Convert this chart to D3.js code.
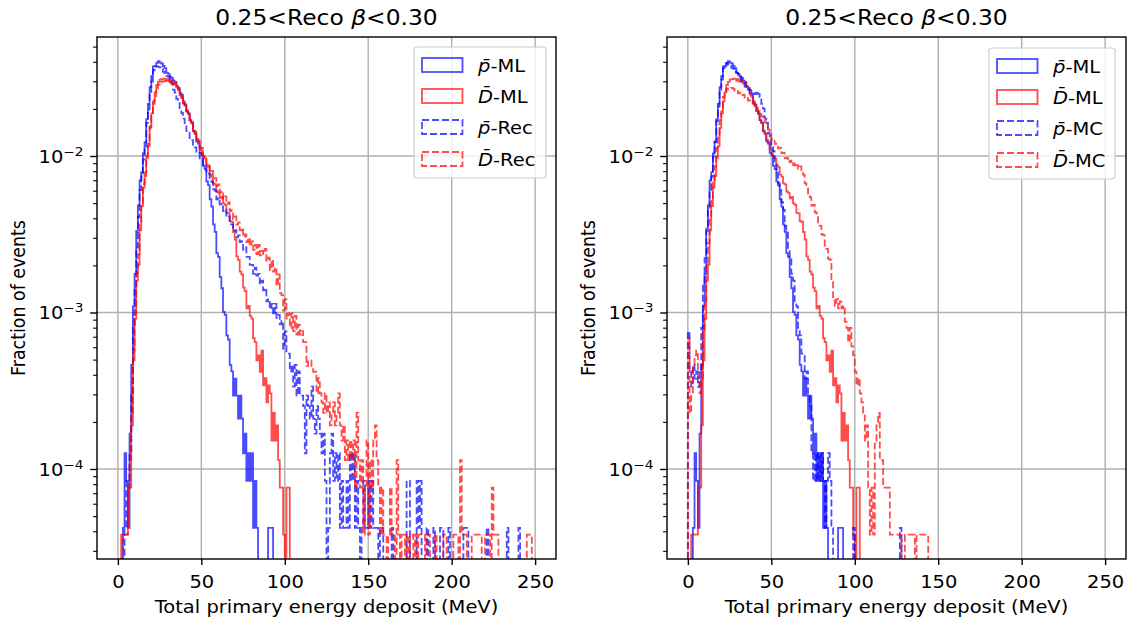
<!DOCTYPE html>
<html>
<head>
<meta charset="utf-8">
<script src="https://cdn.jsdelivr.net/npm/d3@7"></script>
<style>
  body { margin: 0; background: #fff; }
  svg text { font-family: "DejaVu Sans", sans-serif; fill: #000; }
</style>
</head>
<body>
<script>
// event counts per 1 MeV bin, first entry = [0,1) MeV
const pML = [
  0, 0, 0, 1, 3, 2, 1, 4, 11, 26,
  42, 79, 115, 166, 188, 247, 292, 410, 512, 655,
  770, 890, 895, 938, 962, 940, 928, 895, 866, 812,
  798, 764, 752, 721, 708, 662, 648, 602, 588, 531,
  508, 462, 447, 403, 389, 342, 331, 294, 286, 249,
  241, 206, 196, 164, 155, 126, 113, 87, 78, 57,
  54, 40, 34, 24, 23, 17, 16, 11, 10, 7,
  9, 7, 5, 7, 5, 3, 4, 2, 3, 2,
  3, 1, 2, 1, 0, 0, 0, 0, 0, 0,
  1, 1, 1];
const dML = [
  0, 0, 1, 1, 1, 1, 2, 2, 5, 13,
  24, 42, 53, 88, 126, 165, 196, 257, 304, 398,
  492, 588, 672, 748, 782, 808, 814, 822, 818, 795,
  815, 786, 806, 764, 768, 733, 708, 652, 628, 572,
  556, 512, 488, 444, 426, 383, 366, 334, 326, 294,
  286, 259, 254, 230, 224, 200, 194, 176, 173, 156,
  153, 141, 144, 131, 128, 114, 113, 101, 100, 86,
  77, 60, 57, 48, 46, 38, 36, 28, 29, 25,
  24, 18, 17, 13, 14, 11, 15, 9, 10, 7,
  9, 8, 4, 6, 4, 5, 3, 2, 2, 1,
  0, 2, 2];
const pRec = [
  0, 0, 0, 0, 1, 2, 2, 3, 7, 19,
  33, 62, 97, 144, 176, 226, 274, 388, 472, 610,
  712, 838, 862, 889, 884, 876, 858, 822, 806, 772,
  766, 712, 688, 632, 606, 552, 528, 472, 448, 412,
  386, 344, 336, 304, 300, 274, 270, 250, 249, 230,
  229, 210, 209, 190, 184, 166, 163, 146, 143, 126,
  128, 117, 118, 106, 108, 97, 98, 87, 87, 79,
  80, 72, 74, 67, 68, 60, 62, 54, 54, 48,
  48, 42, 46, 41, 42, 36, 38, 33, 34, 28,
  29, 25, 27, 23, 27, 22, 23, 20, 21, 14,
  18, 13, 13, 10, 11, 8, 11, 7, 10, 7,
  7, 6, 3, 7, 6, 5, 8, 5, 4, 6,
  5, 4, 3, 4, 2, 0, 1, 3, 4, 2,
  3, 2, 3, 1, 2, 1, 1, 2, 1, 3,
  2, 3, 1, 2, 1, 0, 1, 2, 1, 1,
  2, 1, 2, 1, 1, 1, 0, 1, 1, 0,
  0, 0, 0, 0, 1, 0, 0, 0, 0, 0,
  0, 0, 0, 2, 2, 0, 0, 0, 0, 2,
  1, 2, 0, 0, 0, 1, 0, 0, 0, 1,
  0, 0, 0, 1, 1, 0, 0, 0, 1, 0,
  0, 0, 0, 0, 0, 0, 0, 1, 1, 1,
  0, 0, 0, 0, 0, 0, 0, 0, 0, 0,
  0, 1, 0, 0, 0, 0, 0, 0, 0, 0,
  0, 0, 0, 1, 0, 0, 0, 0, 0, 0,
  1];
const dRec = [
  0, 0, 0, 1, 1, 1, 2, 3, 6, 15,
  26, 47, 62, 98, 131, 174, 206, 265, 314, 406,
  474, 566, 632, 708, 752, 778, 784, 788, 796, 794,
  805, 776, 796, 754, 756, 714, 696, 644, 616, 568,
  552, 503, 486, 443, 432, 388, 376, 338, 331, 298,
  296, 263, 261, 233, 234, 208, 211, 189, 190, 169,
  173, 154, 157, 140, 145, 130, 133, 117, 119, 104,
  108, 96, 99, 88, 91, 80, 83, 74, 79, 70,
  75, 66, 71, 62, 71, 61, 65, 62, 67, 56,
  59, 49, 57, 48, 51, 39, 46, 35, 34, 27,
  32, 24, 26, 21, 26, 20, 25, 19, 22, 19,
  20, 17, 17, 12, 13, 13, 12, 11, 11, 8,
  10, 8, 7, 6, 8, 6, 7, 5, 6, 7,
  5, 6, 8, 5, 4, 5, 3, 4, 3, 4,
  3, 4, 2, 6, 3, 2, 3, 1, 2, 4,
  1, 3, 2, 4, 5, 3, 2, 1, 2, 1,
  1, 0, 1, 2, 1, 1, 0, 3, 1, 0,
  1, 1, 0, 1, 0, 1, 1, 0, 1, 0,
  1, 1, 1, 1, 0, 1, 1, 0, 0, 0,
  1, 0, 0, 0, 0, 1, 1, 0, 0, 0,
  0, 1, 1, 1, 0, 3, 1, 1, 1, 0,
  0, 0, 1, 1, 1, 1, 1, 1, 0, 0,
  1, 1, 1, 0, 2, 1, 1, 1, 0, 0,
  0, 0, 0, 0, 0, 0, 0, 0, 0, 0,
  0, 0, 0, 0, 0, 1, 1, 1];
const pMC = [
  18, 10, 8, 11, 9, 10, 8, 10, 19, 36,
  53, 82, 107, 144, 176, 236, 294, 398, 492, 628,
  732, 868, 892, 938, 914, 906, 872, 858, 822, 808,
  772, 768, 712, 698, 662, 658, 632, 628, 594, 598,
  592, 618, 594, 566, 512, 478, 412, 388, 332, 318,
  272, 256, 214, 196, 160, 144, 121, 108, 85, 77,
  60, 54, 42, 38, 28, 26, 19, 17, 13, 13,
  9, 10, 7, 6, 3, 2, 3, 2, 3, 2,
  3, 2, 1, 2, 3, 2, 1, 0, 0, 0,
  0, 0, 0, 0, 0, 0, 0, 0, 0, 1,
  0, 0, 0, 0, 0, 0, 0, 0, 0, 0,
  0, 0, 0, 0, 0, 0, 0, 0, 0, 0,
  0, 0, 0, 0, 0, 0, 0, 1];
const dMC = [
  18, 6, 8, 12, 14, 15, 10, 8, 10, 20,
  30, 52, 73, 108, 136, 184, 226, 296, 354, 446,
  532, 628, 672, 708, 702, 712, 716, 706, 684, 688,
  662, 668, 644, 648, 622, 626, 594, 596, 574, 566,
  538, 536, 508, 506, 472, 466, 432, 426, 388, 376,
  338, 336, 314, 316, 294, 296, 274, 276, 254, 256,
  240, 246, 230, 236, 224, 230, 218, 226, 206, 199,
  176, 169, 146, 143, 127, 128, 115, 113, 97, 94,
  83, 82, 70, 67, 58, 57, 43, 33, 29, 32,
  28, 31, 28, 29, 23, 21, 17, 21, 16, 14,
  11, 9, 10, 8, 7, 6, 4, 5, 2, 1,
  2, 1, 4, 5, 6, 3, 3, 2, 2, 2,
  2, 1, 1, 1, 1, 1, 1, 1, 0, 0,
  1, 1, 1, 1, 1, 1, 0, 1, 1, 1,
  1, 1, 1, 1];

// total events used for the normalisation
const nPbar = 23800;
const nDbar = 26300;

const xTicks = [0, 50, 100, 150, 200, 250];
const yTicks = [1e-4, 1e-3, 1e-2];
const yTickExp = ['\u22124', '\u22123', '\u22122'];
const titleParts = ['0.25<Reco ', '\u03b2', '<0.30'];
const xLabel = 'Total primary energy deposit (MeV)';
const yLabel = 'Fraction of events';
const legendSym = ['p\u0304', 'D\u0304', 'p\u0304', 'D\u0304'];
const legendLeft = ['-ML', '-ML', '-Rec', '-Rec'];
const legendRight = ['-ML', '-ML', '-MC', '-MC'];

const W = 1128, H = 626;
const yTop = 37, yBottom = 559;
const SX = 1.12;      // reference text is a bit wider than tall
const FS = 17.4;

const styles = [
  {color: '#0000ff', n: nPbar, dash: null},
  {color: '#ff0000', n: nDbar, dash: null},
  {color: '#0000ff', n: nPbar, dash: '7,3'},
  {color: '#ff0000', n: nDbar, dash: '7,3'}
];

const panels = [
  {left: 97, right: 556, series: [pML, dML, pRec, dRec], names: legendLeft,
   lx: 414, ly: 47, lw: 132, lh: 131, ylabX: 25},
  {left: 667, right: 1126, series: [pML, dML, pMC, dMC], names: legendRight,
   lx: 989, ly: 48, lw: 126, lh: 131, ylabX: 595}
];

const svg = d3.select('body').append('svg')
  .attr('width', W).attr('height', H);
const defs = svg.append('defs');

function steps(counts, n) {
  const pts = [[0, 0]];
  counts.forEach((c, i) => {
    pts.push([i, c / n]);
    pts.push([i + 1, c / n]);
  });
  pts.push([counts.length, 0]);
  return pts;
}

// minor ticks on the log axis
const minor = [];
[1e-5, 1e-4, 1e-3, 1e-2].forEach(d => {
  for (let k = 2; k <= 9; k++) minor.push(k * d);
});

panels.forEach((p, pi) => {
  const x = d3.scaleLinear().domain([-12.5, 262.5]).range([p.left, p.right]);
  const y = d3.scaleLog().domain([2.66e-5, 0.0576]).range([yBottom, yTop]);
  const g = svg.append('g');

  defs.append('clipPath').attr('id', 'clip' + pi)
    .append('rect')
    .attr('x', p.left).attr('y', yTop)
    .attr('width', p.right - p.left).attr('height', yBottom - yTop);

  // grid
  g.append('g').selectAll('line').data(xTicks).join('line')
    .attr('x1', d => x(d)).attr('x2', d => x(d))
    .attr('y1', yTop).attr('y2', yBottom)
    .attr('stroke', '#b0b0b0').attr('stroke-width', 1.4);
  g.append('g').selectAll('line').data(yTicks).join('line')
    .attr('x1', p.left).attr('x2', p.right)
    .attr('y1', d => y(d)).attr('y2', d => y(d))
    .attr('stroke', '#b0b0b0').attr('stroke-width', 1.4);

  // histograms
  const line = d3.line()
    .x(d => x(d[0]))
    .y(d => d[1] > 0 ? y(d[1]) : yBottom + 40);
  const plot = g.append('g').attr('clip-path', `url(#clip${pi})`);
  p.series.forEach((s, si) => {
    const st = styles[si];
    plot.append('path')
      .attr('d', line(steps(s, st.n)))
      .attr('fill', 'none')
      .attr('stroke', st.color)
      .attr('stroke-opacity', 0.7)
      .attr('stroke-width', 1.8)
      .attr('stroke-dasharray', st.dash);
  });

  // x axis
  const gx = g.append('g')
    .attr('transform', `translate(0,${yBottom})`)
    .call(d3.axisBottom(x).tickValues(xTicks).tickSize(6.1).tickPadding(10.5).tickSizeOuter(0));
  gx.select('.domain').remove();
  gx.attr('font-size', FS).attr('font-family', 'DejaVu Sans');
  gx.selectAll('line').attr('stroke', '#000').attr('stroke-width', 1.4);
  gx.selectAll('text').attr('transform', `scale(${SX},1)`);

  // y axis, major
  const gy = g.append('g')
    .attr('transform', `translate(${p.left},0)`)
    .call(d3.axisLeft(y).tickValues(yTicks).tickSize(6.8).tickFormat(''));
  gy.select('.domain').remove();
  gy.selectAll('line').attr('stroke', '#000').attr('stroke-width', 1.4);
  gy.selectAll('text').remove();
  gy.selectAll('.tick').each(function (d, i) {
    const t = d3.select(this).append('text')
      .attr('transform', `translate(-13.6,6.5) scale(${SX},1)`)
      .attr('text-anchor', 'end')
      .attr('font-size', FS);
    t.append('tspan').text('10');
    t.append('tspan').attr('dy', -7.5).attr('font-size', FS * 0.7).text(yTickExp[i]);
  });

  // y axis, minor
  const gm = g.append('g')
    .attr('transform', `translate(${p.left},0)`)
    .call(d3.axisLeft(y).tickValues(minor.filter(v => v > 2.66e-5 && v < 0.0576)).tickSize(3.9).tickFormat(''));
  gm.select('.domain').remove();
  gm.selectAll('line').attr('stroke', '#000').attr('stroke-width', 1.1);
  gm.selectAll('text').remove();

  // frame
  g.append('rect')
    .attr('x', p.left).attr('y', yTop)
    .attr('width', p.right - p.left).attr('height', yBottom - yTop)
    .attr('fill', 'none').attr('stroke', '#000').attr('stroke-width', 1.4);

  // title
  const cx = (p.left + p.right) / 2;
  const title = g.append('text')
    .attr('transform', `translate(${cx},25) scale(${SX},1)`)
    .attr('text-anchor', 'middle')
    .attr('font-size', 20.9);
  titleParts.forEach((s, i) => {
    title.append('tspan').attr('font-style', i === 1 ? 'italic' : 'normal').text(s);
  });

  // axis labels
  g.append('text')
    .attr('transform', `translate(${cx},613) scale(${SX},1)`)
    .attr('text-anchor', 'middle')
    .attr('font-size', FS)
    .text(xLabel);
  g.append('text')
    .attr('transform', `translate(${p.ylabX},${(yTop + yBottom) / 2}) scale(${SX},1) rotate(-90)`)
    .attr('text-anchor', 'middle')
    .attr('font-size', FS)
    .text(yLabel);

  // legend
  const lg = g.append('g');
  lg.append('rect')
    .attr('x', p.lx).attr('y', p.ly)
    .attr('width', p.lw).attr('height', p.lh)
    .attr('rx', 3.5)
    .attr('fill', '#fff').attr('fill-opacity', 0.8)
    .attr('stroke', '#cccccc').attr('stroke-width', 1.2);
  const rows = [18, 49, 80, 112];
  p.names.forEach((name, i) => {
    const st = styles[i];
    const ry = p.ly + rows[i];
    lg.append('rect')
      .attr('x', p.lx + 8).attr('y', ry - 7)
      .attr('width', 40.5).attr('height', 14)
      .attr('fill', 'none')
      .attr('stroke', st.color).attr('stroke-opacity', 0.7)
      .attr('stroke-width', 1.8)
      .attr('stroke-dasharray', st.dash);
    const t = lg.append('text')
      .attr('transform', `translate(${p.lx + 64},${ry + 6.5}) scale(${SX},1)`)
      .attr('font-size', FS);
    t.append('tspan').attr('font-style', 'italic').text(legendSym[i]);
    t.append('tspan').text(name);
  });
});
</script>
</body>
</html>
